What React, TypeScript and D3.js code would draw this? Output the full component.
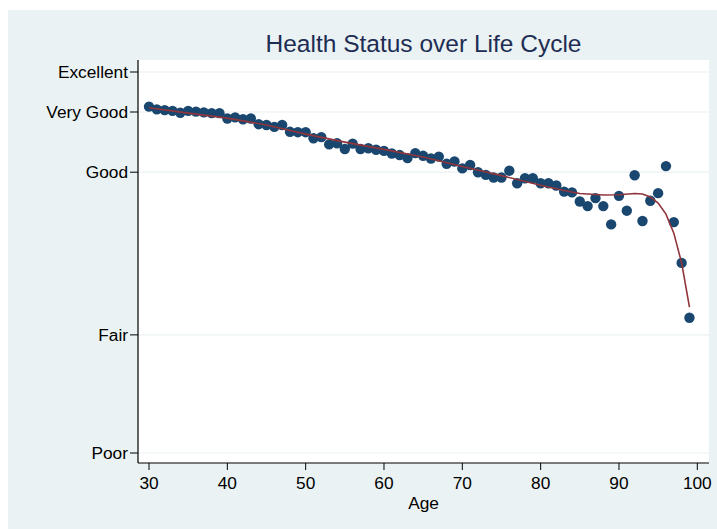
import React from "react";
import * as d3 from "d3";

// Health index scale: tick positions for categorical labels
const tickLabels = ["Poor", "Fair", "Good", "Very Good", "Excellent"];
const tickValues = [0, 0.31, 0.737, 0.895, 1.0];

const xTicks = [30, 40, 50, 60, 70, 80, 90, 100];

const ages = [
  30, 31, 32, 33, 34, 35, 36, 37, 38, 39, 40, 41, 42, 43, 44, 45, 46, 47, 48, 49,
  50, 51, 52, 53, 54, 55, 56, 57, 58, 59, 60, 61, 62, 63, 64, 65, 66, 67, 68, 69,
  70, 71, 72, 73, 74, 75, 76, 77, 78, 79, 80, 81, 82, 83, 84, 85, 86, 87, 88, 89,
  90, 91, 92, 93, 94, 95, 96, 97, 98, 99,
];
const health = [
  0.909, 0.902, 0.9, 0.898, 0.893, 0.898, 0.896, 0.894, 0.892, 0.892,
  0.878, 0.881, 0.876, 0.878, 0.863, 0.861, 0.856, 0.861, 0.843, 0.842,
  0.842, 0.826, 0.829, 0.81, 0.813, 0.798, 0.812, 0.798, 0.8, 0.796,
  0.793, 0.786, 0.782, 0.774, 0.787, 0.78, 0.773, 0.778, 0.759, 0.765,
  0.747, 0.756, 0.737, 0.73, 0.723, 0.723, 0.741, 0.708, 0.721, 0.721,
  0.708, 0.708, 0.702, 0.686, 0.684, 0.66, 0.648, 0.669, 0.648, 0.6,
  0.675, 0.636, 0.729, 0.609, 0.662, 0.682, 0.753, 0.606, 0.499, 0.355,
];

// Smoothed (lowess) fit
const fitAges = [30, 35, 40, 45, 50, 55, 60, 65, 70, 75, 80, 83, 85, 88, 90, 92, 93, 94, 95, 96, 97, 98, 99];
const fitValues = [
  0.906, 0.892, 0.879, 0.861, 0.837, 0.816, 0.797, 0.777, 0.752, 0.728, 0.703, 0.689,
  0.681, 0.677, 0.678, 0.681, 0.68, 0.672, 0.656, 0.627, 0.577, 0.499, 0.383,
];

const W = 717;
const H = 529;
const plot = { left: 138, right: 709, top: 60, bottom: 463 };
const BG = "#eaf2f3";
const FONT = "'Liberation Sans', Arial, Helvetica, sans-serif";

export default function App() {
  const x = d3.scaleLinear().domain([30, 100]).range([149, 697.3]);
  const y = d3.scaleLinear().domain([0, 1]).range([453, 72]);

  const line = d3
    .line<number>()
    .x((_, i) => x(fitAges[i]))
    .y((d) => y(d))
    .curve(d3.curveLinear);

  return (
    <svg
      width={W}
      height={H}
      style={{ position: "absolute", left: 0, top: 0 }}
      fontFamily={FONT}
    >
      <rect x={0} y={0} width={W} height={H} fill="#ffffff" />
      <rect x={8} y={10} width={W - 8} height={H - 10} fill={BG} />
      <rect
        x={plot.left}
        y={plot.top}
        width={plot.right - plot.left}
        height={plot.bottom - plot.top}
        fill="#ffffff"
      />
      {/* gridlines */}
      {tickValues.map((v, i) => (
        <line
          key={"g" + i}
          x1={plot.left}
          x2={plot.right}
          y1={y(v)}
          y2={y(v)}
          stroke={BG}
          strokeWidth={1.2}
        />
      ))}
      {/* title */}
      <text
        x={(plot.left + plot.right) / 2}
        y={52}
        textAnchor="middle"
        fontSize={24.5}
        fill="#1e2d53"
      >
        Health Status over Life Cycle
      </text>
      {/* y axis */}
      <line x1={plot.left} x2={plot.left} y1={plot.top} y2={plot.bottom} stroke="#000" strokeWidth={1.2} />
      {tickValues.map((v, i) => (
        <g key={"yt" + i}>
          <line x1={plot.left - 8} x2={plot.left} y1={y(v)} y2={y(v)} stroke="#000" strokeWidth={1} />
          <text
            x={plot.left - 10}
            y={y(v)}
            dy="0.35em"
            textAnchor="end"
            fontSize={17.3}
            fill="#000"
          >
            {tickLabels[i]}
          </text>
        </g>
      ))}
      {/* x axis */}
      <line x1={plot.left} x2={plot.right} y1={plot.bottom} y2={plot.bottom} stroke="#000" strokeWidth={1.2} />
      {xTicks.map((t) => (
        <g key={"xt" + t}>
          <line x1={x(t)} x2={x(t)} y1={plot.bottom} y2={plot.bottom + 7} stroke="#000" strokeWidth={1} />
          <text x={x(t)} y={489} textAnchor="middle" fontSize={17.3} fill="#000">
            {t}
          </text>
        </g>
      ))}
      <text x={(plot.left + plot.right) / 2} y={509} textAnchor="middle" fontSize={17.3} fill="#000">
        Age
      </text>
      {/* points */}
      {ages.map((a, i) => (
        <circle key={"p" + a} cx={x(a)} cy={y(health[i])} r={5.2} fill="#1a476f" />
      ))}
      {/* fit line */}
      <path d={line(fitValues) || ""} fill="none" stroke="#90353b" strokeWidth={1.6} />
    </svg>
  );
}
